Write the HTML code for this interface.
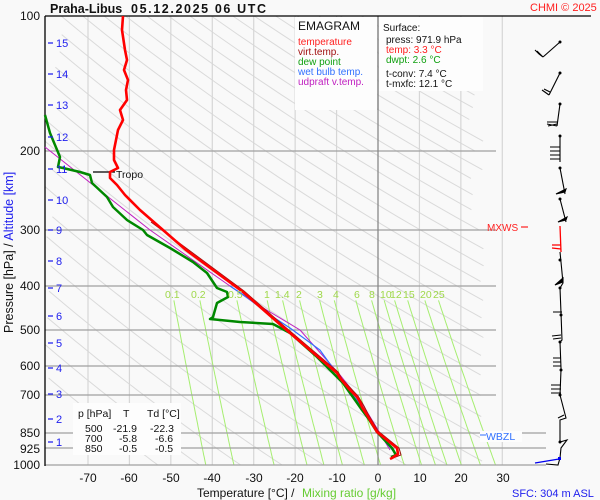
<!DOCTYPE html>
<html><head><meta charset="utf-8"><style>
html,body{margin:0;padding:0;background:#f9f9f9;}
svg{display:block;font-family:"Liberation Sans",sans-serif;}
</style></head><body>
<svg id="s" width="600" height="500" viewBox="0 0 600 500" xmlns="http://www.w3.org/2000/svg">
<rect width="600" height="500" fill="#f9f9f9"/>
<g id="adi" stroke="#dadada" stroke-width="1" fill="none"></g>
<g id="vgrid" stroke="#d6d6d6" stroke-width="1.2"></g>
<g id="mix" stroke="#a6ee70" stroke-width="1" fill="none"></g>
<g stroke="#a0a0a0" stroke-width="1.3">
<line x1="45" y1="151" x2="496" y2="151"/>
<line x1="45" y1="230" x2="496" y2="230"/>
<line x1="45" y1="286" x2="496" y2="286"/>
<line x1="45" y1="330" x2="496" y2="330"/>
<line x1="45" y1="366" x2="496" y2="366"/>
<line x1="45" y1="395" x2="496" y2="395"/>
<line x1="45" y1="433" x2="546" y2="433"/>
<line x1="45" y1="448" x2="546" y2="448"/>
<line x1="45" y1="465" x2="546" y2="465"/>
</g>
<line x1="378" y1="16" x2="378" y2="465" stroke="#888" stroke-width="1.3"/>
<rect x="295" y="17" width="82" height="93" fill="#fdfdfd"/>
<rect x="379" y="17" width="104" height="74" fill="#fdfdfd"/>
<line x1="378" y1="16" x2="378" y2="110" stroke="#888" stroke-width="1.3"/>
<text x="298" y="30" font-size="12" fill="#111">EMAGRAM</text>
<g font-size="10">
<text x="298" y="45" fill="#ff2020">temperature</text>
<text x="298" y="55" fill="#a01010">virt.temp.</text>
<text x="298" y="65" fill="#10a010">dew point</text>
<text x="298" y="75" fill="#3070ff">wet bulb temp.</text>
<text x="298" y="85" fill="#c020c0">udpraft v.temp.</text>
<text x="383" y="31" fill="#111">Surface:</text>
<text x="386" y="43" fill="#111">press: 971.9 hPa</text>
<text x="386" y="53" fill="#ff2020">temp: 3.3 °C</text>
<text x="386" y="63" fill="#10a010">dwpt: 2.6 °C</text>
<text x="386" y="77" fill="#111">t-conv: 7.4 °C</text>
<text x="386" y="87" fill="#111">t-mxfc: 12.1 °C</text>
</g>
<rect x="73" y="403" width="108" height="52" fill="#fdfdfd"/>
<g font-size="10.5" fill="#111">
<text x="78" y="417">p [hPa]</text><text x="123" y="417">T</text><text x="147" y="417">Td [°C]</text>
<text x="85" y="432">500</text><text x="113" y="432">-21.9</text><text x="150" y="432">-22.3</text>
<text x="85" y="442">700</text><text x="119" y="442">-5.8</text><text x="155" y="442">-6.6</text>
<text x="85" y="452">850</text><text x="119" y="452">-0.5</text><text x="155" y="452">-0.5</text>
</g>
<line x1="45" y1="16" x2="591" y2="16" stroke="#000" stroke-width="1.3"/>
<line x1="45" y1="16" x2="45" y2="466" stroke="#000" stroke-width="1.3"/>
<g font-size="12" fill="#111" text-anchor="end">
<text x="40" y="20">100</text><text x="40" y="155">200</text><text x="40" y="234">300</text>
<text x="40" y="290">400</text><text x="40" y="334">500</text><text x="40" y="370">600</text>
<text x="40" y="399">700</text><text x="40" y="437">850</text><text x="40" y="453">925</text>
<text x="40" y="469">1000</text>
</g>
<g font-size="12" fill="#111" text-anchor="middle">
<text x="88" y="482">-70</text><text x="129" y="482">-60</text><text x="171" y="482">-50</text>
<text x="212" y="482">-40</text><text x="254" y="482">-30</text><text x="295" y="482">-20</text>
<text x="337" y="482">-10</text><text x="378" y="482">0</text><text x="420" y="482">10</text>
<text x="461" y="482">20</text><text x="503" y="482">30</text>
</g>
<text x="197" y="497" font-size="12" fill="#111">Temperature [°C]  /</text>
<text x="302" y="497" font-size="12" fill="#66cc33">Mixing ratio [g/kg]</text>
<text x="512" y="497" font-size="11" fill="#2020ee">SFC: 304 m ASL</text>
<text x="50" y="13" font-size="12.5" font-weight="bold" fill="#111">Praha-Libus</text>
<text x="131" y="13" font-size="12.5" font-weight="bold" fill="#111" textLength="135">05.12.2025 06 UTC</text>
<text x="530" y="11" font-size="11" fill="#ff2020">CHMI © 2025</text>
<text transform="translate(13,333) rotate(-90)" font-size="12.5" fill="#111">Pressure [hPa]  /  <tspan fill="#2020ee">Altitude [km]</tspan></text>
<line x1="93" y1="172" x2="115" y2="172" stroke="#000" stroke-width="1.3"/>
<text x="116" y="178" font-size="10.5" fill="#111">Tropo</text>
<text x="487" y="231" font-size="10" fill="#ff2020">MXWS</text>
<line x1="521" y1="227" x2="528" y2="227" stroke="#ff2020" stroke-width="1.2"/>
<rect x="480" y="431" width="42" height="11" fill="#fdfdfd"/>
<line x1="480" y1="435" x2="486" y2="435" stroke="#3070ff"/>
<text x="486" y="440" font-size="10.5" fill="#3070ff">WBZL</text>
<polyline fill="none" stroke="#c020c0" stroke-width="1" points="45,147 150,230 250,300 300,330 340,375 360,400 375,425 390,450"/>
<polyline fill="none" stroke="#3070ff" stroke-width="1.2" points="230,286 245,296 270,315 290,328 320,350 340,378 350,392 357,400 366,415 378,433 394,452"/>
<polyline fill="none" stroke="#008800" stroke-width="2.5" stroke-linejoin="round" points="45,115 50,133 60,157 58,167 63,168 80,172 90,175 92,183 107,197 113,207 127,220 143,230 147,235 170,248 193,262 207,273 217,288 227,292 228,297 217,303 213,317 210,319 240,322 273,324 290,333 317,357 337,377 343,383 350,393 355,400 362,410 368,418 377,432 392,448 396,455 391,457"/>
<polyline fill="none" stroke="#a01010" stroke-width="1" points="151,222 244,291 284,326 338,372 342,379 358,396 364,406 368,414 378,431 399,448 401,455 393,458"/>
<polyline fill="none" stroke="#ff0000" stroke-width="2.6" stroke-linejoin="round" points="123,16 122,30 125,50 127,60 124,70 128,80 126,90 127,100 120,110 123,120 118,130 116,140 114,150 114,160 118,168 110,172 110,178 117,185 125,195 140,210 163,230 186,250 243,292 283,327 337,373 340,378 350,390 357,397 360,402 362,407 367,415 377,432 397,448 398,454 392,458 390,459"/>
<g stroke="#000" stroke-width="1.1" fill="none">
<line x1="560" y1="42" x2="543" y2="57"/><path d="M543,57 L537,51 M543,57 L539,54 L535,50"/>
<line x1="560" y1="73" x2="549" y2="95"/><path d="M549,95 L542,90 M550,92 L544,89"/>
<line x1="560" y1="104" x2="557" y2="126"/><path d="M557,126 L547,124 M557,122 L547,122 M557,124 L548,126"/>
<line x1="560" y1="136" x2="560" y2="162"/><path d="M560,147 L550,147 M560,151 L550,151 M560,155 L550,155 M560,159 L550,159"/>
<line x1="560" y1="168" x2="565" y2="194"/><path d="M565,192 L556,194 L566,189 Z" fill="#000"/>
<line x1="560" y1="199" x2="566" y2="222"/><path d="M566,220 L558,222 L567,217 Z" fill="#000"/>
<polyline points="560,252 561,262 563,283 560,288 561,313 562,340 560,342 561,368 561,370 560,395 566,418 560,420 560,442 567,440 561,448 560,458 558,465 546,464"/>
<path d="M563,282 L555,285 L563,278 Z M562,312 L553,312 M561,335 L552,336 M561,338 L553,339 M561,362 L553,362 M561,366 L553,366 M561,358 L553,358 M561,385 L551,385 M561,389 L551,389 M561,393 L551,393 M564,415 L558,418" fill="#000"/>
</g>
<g fill="#000"><circle cx="560" cy="42" r="1.5"/><circle cx="560" cy="73" r="1.5"/><circle cx="560" cy="104" r="1.5"/><circle cx="560" cy="136" r="1.5"/><circle cx="560" cy="168" r="1.5"/><circle cx="560" cy="199" r="1.5"/><circle cx="560" cy="260" r="1.5"/><circle cx="560" cy="288" r="1.5"/><circle cx="561" cy="315" r="1.5"/><circle cx="560" cy="342" r="1.5"/><circle cx="561" cy="370" r="1.5"/><circle cx="560" cy="395" r="1.5"/><circle cx="560" cy="442" r="1.5"/></g>
<polyline fill="none" stroke="#ff0000" stroke-width="1.3" points="560,226 561,252"/>
<path d="M561,245 L552,245 M561,249 L552,248" stroke="#ff0000" stroke-width="1.3"/>
<line x1="535" y1="463" x2="559" y2="459" stroke="#0000ee" stroke-width="1.3"/>
<rect x="558" y="457" width="3" height="3" fill="#0000ee"/>
<script>
(function(){
var NS="http://www.w3.org/2000/svg";
function X(t){return 378+t*4.143;}
function Y(p){return 16+449*Math.log10(p/100);}
function el(g,tag,a){var e=document.createElementNS(NS,tag);for(var k in a)e.setAttribute(k,a[k]);document.getElementById(g).appendChild(e);return e;}
for(var t=-70;t<=30;t+=10){if(t==0)continue;el("vgrid","line",{x1:X(t),y1:16,x2:X(t),y2:465});}
for(var th=220;th<=520;th+=10){var pts=[];for(var p=100;p<=1000;p+=10){var T=th*Math.pow(p/1000,0.286)-273.15;var x=X(T),y=Y(p);if(x<45)continue;if(x>484)continue;pts.push(x.toFixed(1)+","+y.toFixed(1));}if(pts.length>1)el("adi","polyline",{points:pts.join(" ")});}
var ws=[0.1,0.2,0.5,1,1.4,2,3,4,6,8,10,12,15,20,25];
ws.forEach(function(w){var pts=[];for(var p=430;p<=1000;p+=10){var e=w*p/(622+w);var l=Math.log(e/6.112);var T=243.5*l/(17.67-l);pts.push(X(T).toFixed(1)+","+Y(p).toFixed(1));}el("mix","polyline",{points:pts.join(" ")});});
})();
</script>
<g fill="#9fd84a" font-size="10.5">
<text x="165" y="298">0.1</text><text x="191" y="298">0.2</text><text x="228" y="298">0.5</text>
<text x="264" y="298">1</text><text x="275" y="298">1.4</text><text x="296" y="298">2</text>
<text x="317" y="298">3</text><text x="333" y="298">4</text><text x="354" y="298">6</text>
<text x="369" y="298">8</text><text x="380" y="298">10</text><text x="390" y="298">12</text>
<text x="403" y="298">15</text><text x="420" y="298">20</text><text x="433" y="298">25</text>
</g>
<g font-size="11" fill="#2020ee">
<path d="M48,43H53M48,74H53M48,105H53M48,137H53M48,169H53M48,200H53M48,230H53M48,261H53M48,288H53M48,316H53M48,343H53M48,368H53M48,394H53M48,419H53M48,442H53" stroke="#2020ee" stroke-width="1.2"/>
<text x="56" y="47">15</text><text x="56" y="78">14</text><text x="56" y="109">13</text>
<text x="56" y="141">12</text><text x="56" y="173">11</text><text x="56" y="204">10</text>
<text x="56" y="234">9</text><text x="56" y="265">8</text><text x="56" y="292">7</text>
<text x="56" y="320">6</text><text x="56" y="347">5</text><text x="56" y="372">4</text>
<text x="56" y="398">3</text><text x="56" y="423">2</text><text x="56" y="446">1</text>
</g>
</svg>
</body></html>
